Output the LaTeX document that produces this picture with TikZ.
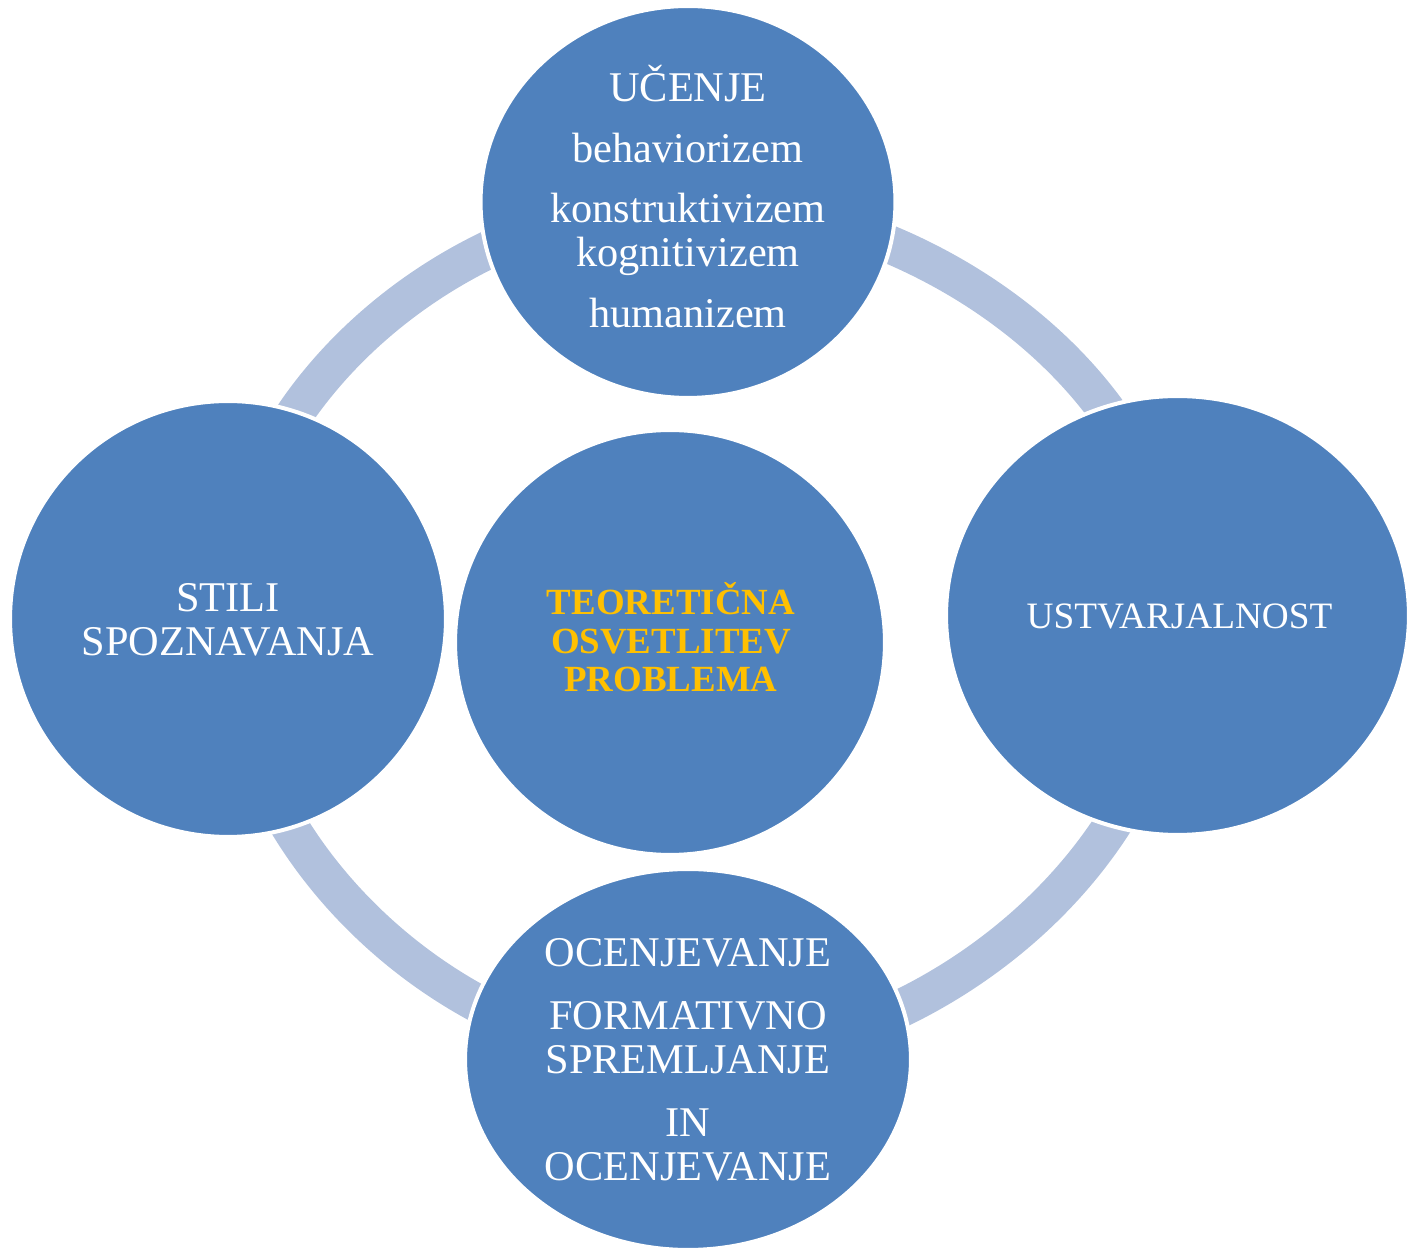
\documentclass[tikz,border=0pt]{standalone}
\usepackage{fontspec}
\setmainfont{Liberation Serif}
\usetikzlibrary{shapes.geometric, backgrounds}
\definecolor{krogmodra}{HTML}{4F81BD}
\definecolor{obrocbarva}{HTML}{B1C1DD}
\definecolor{rumena}{HTML}{FFC000}
\tikzset{
krog/.style={ellipse, fill=krogmodra, draw=white, line width=0.08cm, inner sep=0pt}, % the blue discs
besedilo/.style={text=white, align=center, inner sep=0pt, font=\fontsize{24.1}{25}\selectfont}, % text inside the discs
obroc/.style={draw=obrocbarva, line width=0.76cm, looseness=0.93}, % pale ring between the discs
}
\begin{document}
\begin{tikzpicture}[x=0.02cm, y=0.02cm]
        \useasboundingbox (0,0) rectangle (1407,1251);
        \node[krog, minimum width=8.30cm, minimum height=7.84cm] (ucenje) at (688,1049) {};
        \node[krog, minimum width=8.72cm, minimum height=8.72cm] (stili) at (228,632) {};
        \node[krog, minimum width=9.26cm, minimum height=8.78cm] (ustvarjalnost) at (1177.5,635.5) {};
        \node[krog, minimum width=8.60cm, minimum height=8.50cm] (problem) at (670,608.5) {};
        \node[krog, minimum width=8.92cm, minimum height=7.62cm] (ocenjevanje) at (688,191.5) {};
        \node[besedilo] (ucenje-txt) at (688,1054.5) {UČENJE\\[9.7pt] behaviorizem\\[9.7pt] konstruktivizem\\ kognitivizem\\[9.7pt] humanizem};
        \node[besedilo] (stili-txt) at (228,631.5) {STILI\\ SPOZNAVANJA};
        \node[besedilo, font=\fontsize{21.2}{22}\selectfont] (ustvarjalnost-txt) at (1179.5,635) {USTVARJALNOST};
        \node[besedilo, text=rumena, font=\bfseries\fontsize{21}{21.9}\selectfont] (problem-txt) at (671,613.5) {TEORETIČNA\\ OSVETLITEV\\ PROBLEMA};
        \node[besedilo] (ocenjevanje-txt) at (688,191) {OCENJEVANJE\\[10.8pt] FORMATIVNO\\ SPREMLJANJE\\[10.8pt] IN\\ OCENJEVANJE};
        \begin{scope}[on background layer]
        \draw[obroc] (ucenje.center) to[out=0, in=90] (ustvarjalnost.center)
        (ustvarjalnost.center) to[out=-90, in=0] (ocenjevanje.center)
        (ocenjevanje.center) to[out=180, in=-90] (stili.center)
        (stili.center) to[out=90, in=180] (ucenje.center);
        \end{scope}
\end{tikzpicture}
\end{document}
